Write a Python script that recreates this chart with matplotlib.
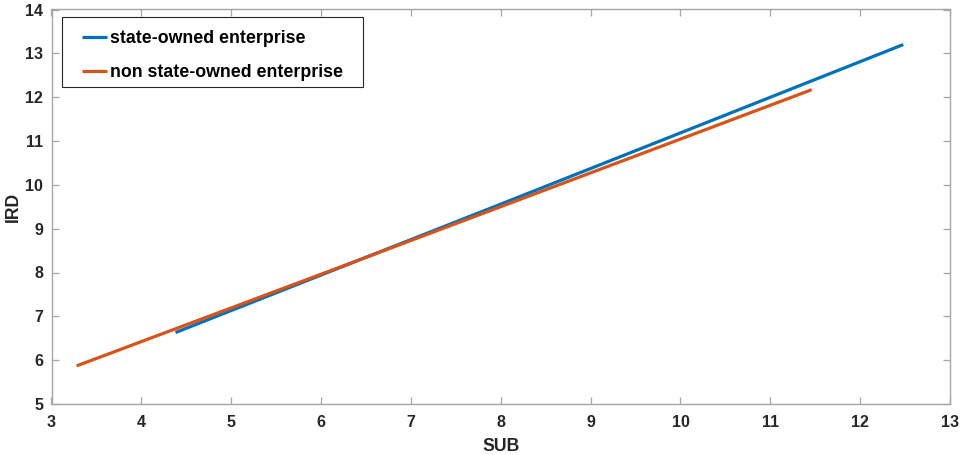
import matplotlib
matplotlib.use("Agg")
from matplotlib import pyplot as plt
from matplotlib.patches import Rectangle

# fitted IRD vs SUB lines for the two ownership groups
soe_sub = [4.38, 8.0, 12.48]
soe_ird = [6.63, 9.56, 13.20]
nsoe_sub = [3.28, 7.0, 11.46]
nsoe_ird = [5.87, 8.73, 12.17]

labels = ['state-owned enterprise', 'non state-owned enterprise']
xticks = [3, 4, 5, 6, 7, 8, 9, 10, 11, 12, 13]
yticks = [5, 6, 7, 8, 9, 10, 11, 12, 13, 14]

plt.rcParams['font.family'] = ['Liberation Sans', 'DejaVu Sans']
plt.rcParams['font.weight'] = 'bold'

W, H = 965, 455
# axes box in pixels: left, right, top, bottom
L, R, T, B = 51.5, 950, 9.5, 404
fig = plt.figure(figsize=(W / 100, H / 100), dpi=100)
ax = fig.add_axes([L / W, (H - B) / H, (R - L) / W, (B - T) / H])
aw, ah = R - L, B - T

ax.plot(soe_sub, soe_ird, color='#0072BD', lw=2.3, label=labels[0], solid_capstyle='butt')
ax.plot(nsoe_sub, nsoe_ird, color='#D95319', lw=2.3, label=labels[1], solid_capstyle='butt')

ax.set_xlim(3, 13)
ax.set_ylim(5, 14)
ax.set_xticks(xticks)
ax.set_yticks(yticks)

for s in ax.spines.values():
    s.set_color('#a6a6a6')
    s.set_linewidth(1.0)
ax.tick_params(direction='in', top=True, right=True, length=5, width=0.9,
               color='#a6a6a6', labelcolor='#262626', labelsize=11.5)
ax.tick_params(axis='x', pad=8)
ax.tick_params(axis='y', pad=6)
for lab in ax.get_xticklabels() + ax.get_yticklabels():
    lab.set_fontweight('bold')

ax.set_xlabel('SUB', fontsize=12.7, fontweight='bold', color='#262626', labelpad=6)
ax.set_ylabel('IRD', fontsize=12.7, fontweight='bold', color='#262626', va='center')
ax.yaxis.set_label_coords((13 - L) / aw, 0.5)

# legend box drawn separately so the padding can be set per side
box = Rectangle(((62 - L) / aw, (B - 87) / ah), 301 / aw, 70 / ah,
                transform=ax.transAxes, facecolor='white', edgecolor='#262626',
                linewidth=0.8, zorder=4)
ax.add_patch(box)

leg = ax.legend(loc='upper left', bbox_to_anchor=((82 - L) / aw, (B - 30) / ah),
                frameon=False, handlelength=1.4,
                handletextpad=0.2, labelspacing=0.98, borderpad=0, borderaxespad=0,
                prop={'weight': 'bold', 'size': 12.8})
for t in leg.get_texts():
    t.set_color('#000000')

fig.savefig('out.png', dpi=100)
